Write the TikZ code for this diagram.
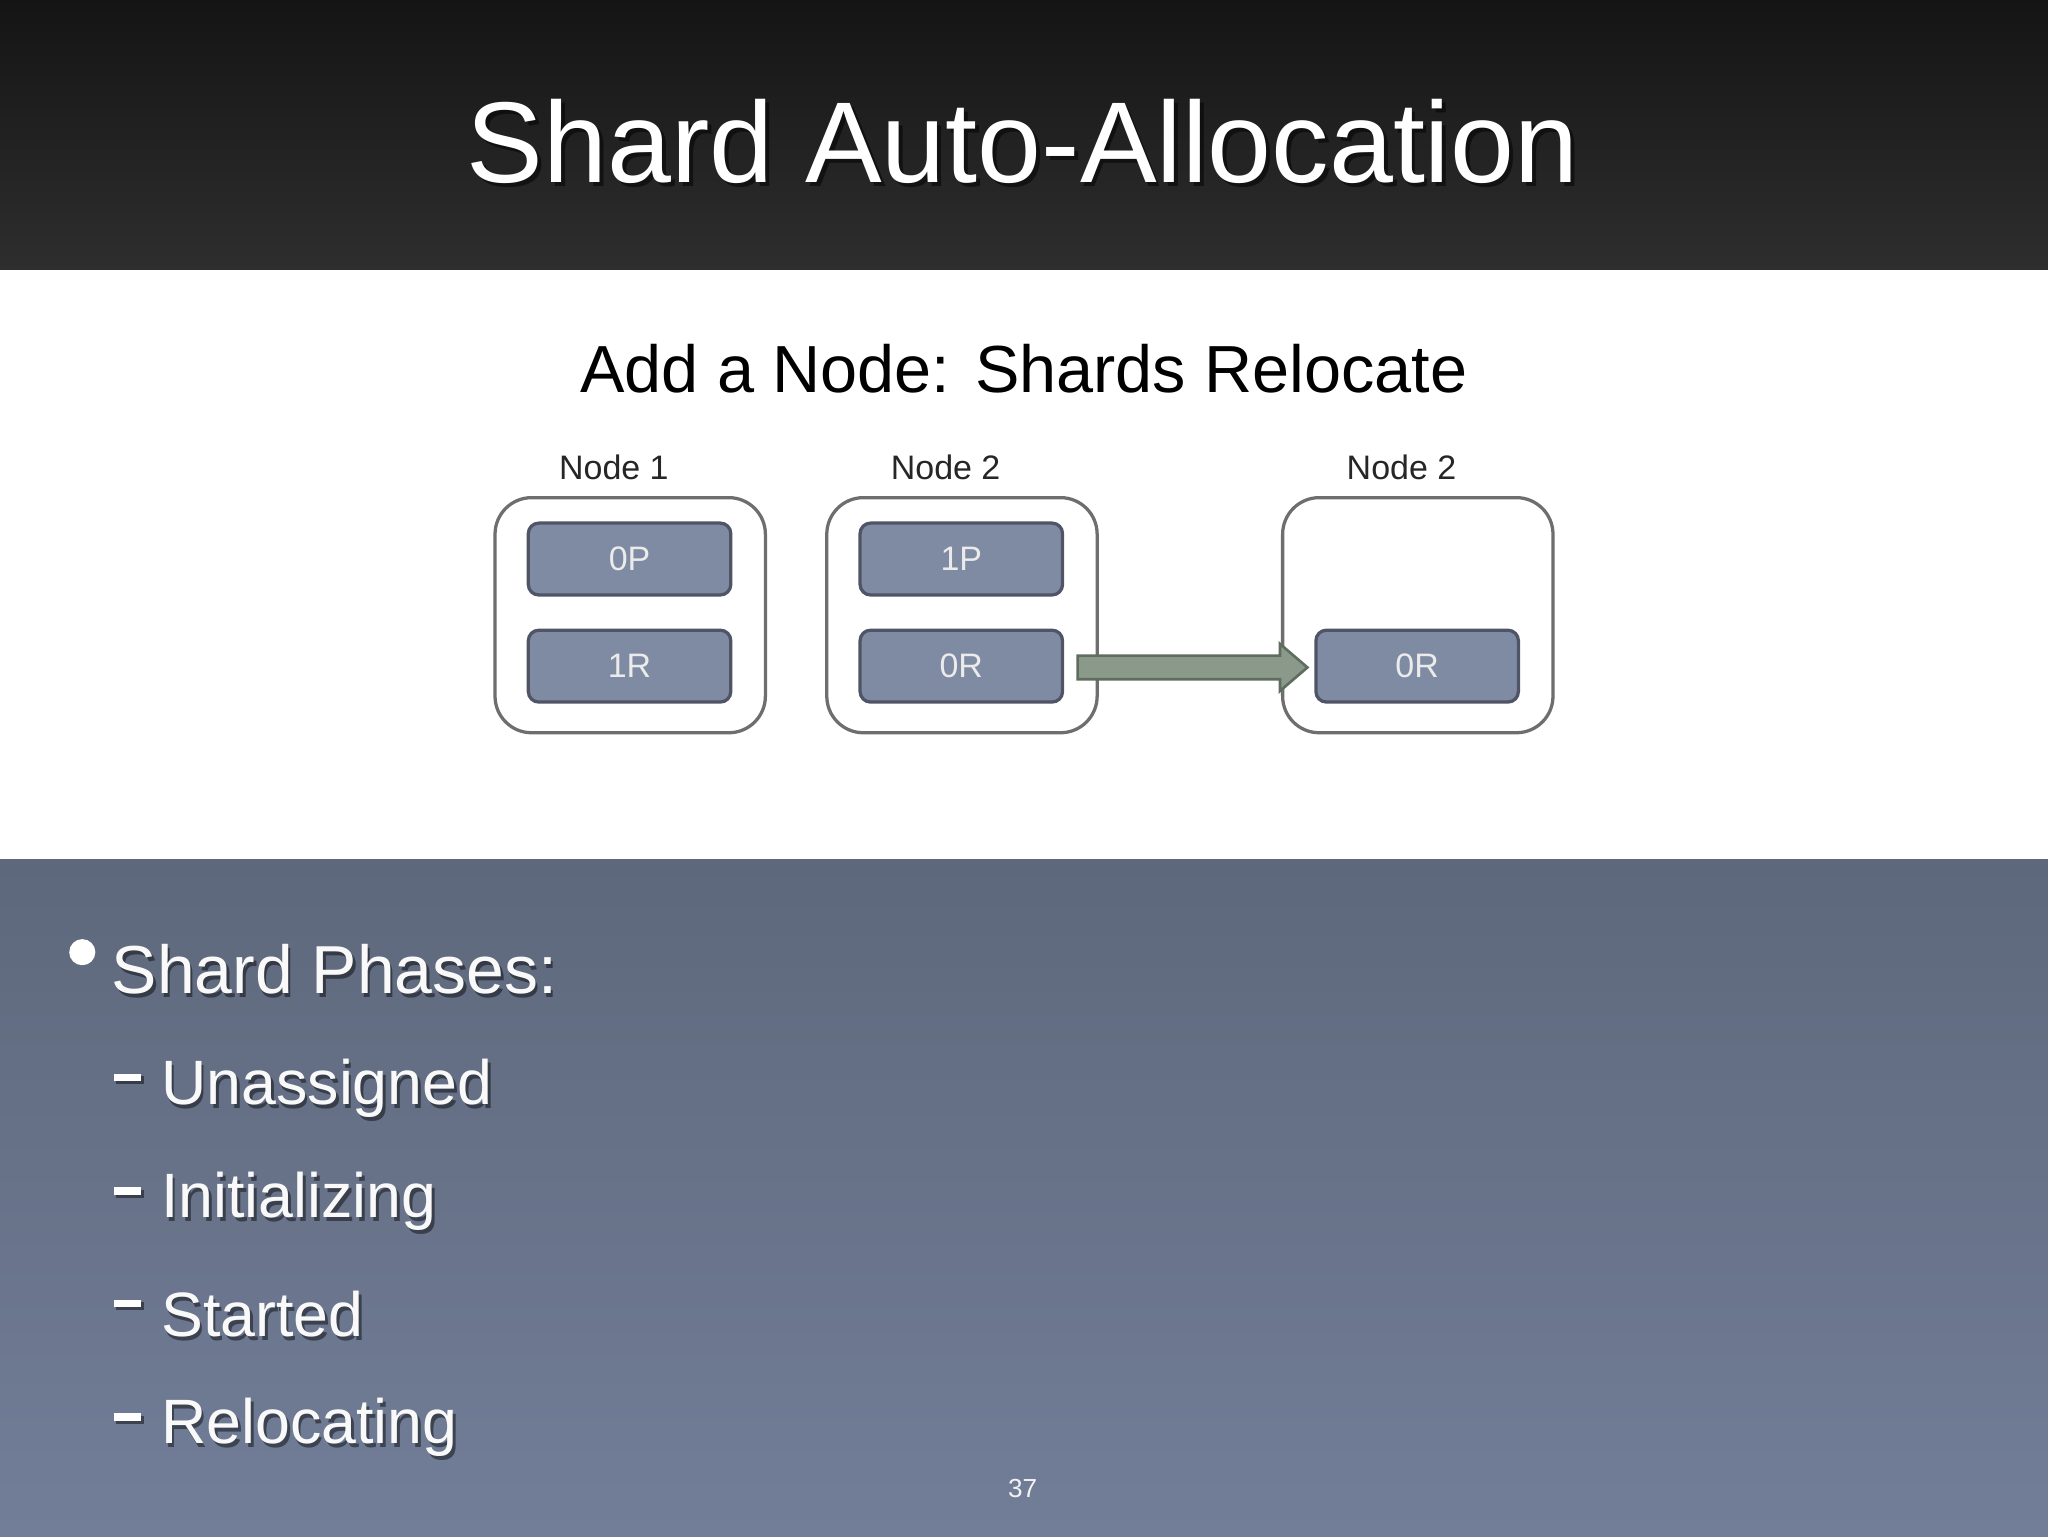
\documentclass[tikz,border=0pt]{standalone}
\usepackage{fontspec}
\setmainfont{Liberation Sans}
\usetikzlibrary{shapes.arrows}
\definecolor{shardfill}{HTML}{7F8BA3}
\definecolor{sharddraw}{HTML}{4F5566}
\definecolor{boxdraw}{HTML}{6E6E6E}
\definecolor{arrfill}{HTML}{8A998A}
\definecolor{arrdraw}{HTML}{5E6E5E}
\tikzset{
  bigbox/.style={draw=boxdraw,line width=2.5pt,rounded corners=28pt,fill=white},
  shard/.style={draw=sharddraw,line width=2.5pt,fill=shardfill,rounded corners=8pt,minimum width=155pt,minimum height=55pt,text=white!92!black,font=\fontsize{26}{28}\selectfont,inner sep=0pt},
  nlabel/.style={font=\fontsize{26}{28}\selectfont,text=black!85},
  item/.style={anchor=west,text=white!95!gray,font=\fontsize{48}{52}\selectfont},
  shadow/.style={anchor=west,text=black,opacity=0.45,font=\fontsize{48}{52}\selectfont},
}
\begin{document}
\begin{tikzpicture}[x=1pt,y=-1pt]
\useasboundingbox (0,0) rectangle (1568,1176);
\shade[top color=black!92,bottom color=black!82] (0,0) rectangle (1568,207);
\fill[white] (0,207) rectangle (1568,658);
\shade[top color={rgb,255:red,94;green,104;blue,124},bottom color={rgb,255:red,114;green,126;blue,152}] (0,658) rectangle (1568,1176);
\node[text=black,opacity=0.5,font=\fontsize{88}{92}\selectfont] at (786,111) {Shard Auto-Allocation};
\node (title) [text=white,font=\fontsize{88}{92}\selectfont] at (783,108) {Shard Auto-Allocation};
\node (sub) [font=\fontsize{51}{55}\selectfont] at (784,282) {Add a Node: Shards Relocate};
\node (l1) [nlabel] at (470,358) {Node 1};
\node (l2) [nlabel] at (724,358) {Node 2};
\node (l3) [nlabel] at (1073,358) {Node 2};
\draw[bigbox] (379,381) rectangle (586,561);
\draw[bigbox] (633,381) rectangle (840,561);
\draw[bigbox] (982,381) rectangle (1189,561);
\node (a) [shard] at (482,428) {0P};
\node (b) [shard] at (482,510) {1R};
\node (c) [shard] at (736,428) {1P};
\node (d) [shard] at (736,510) {0R};
\node (e) [shard] at (1085,510) {0R};
\fill[arrfill,draw=arrdraw,line width=2pt] (825,502) -- (980,502) -- (980,493) -- (1001,511) -- (980,529) -- (980,520) -- (825,520) -- cycle;
\fill[white] (63,729) circle (10);
\node[shadow,font=\fontsize{52}{56}\selectfont] at (84,745) {Shard Phases:};
\node (sp) [item,font=\fontsize{52}{56}\selectfont] at (82,742) {Shard Phases:};
\foreach \y/\t in {831/Unassigned,918/Initializing,1004/Started,1091/Relocating}{
  \fill[black,opacity=0.45] (89,\y-7) rectangle (110,\y-1);
  \fill[white] (87,\y-9) rectangle (108,\y-3);
  \node[shadow] at (122,\y+5) {\t};
  \node[item] at (120,\y+2) {\t};
}
\node (pg) [text=white!90!gray,font=\fontsize{20}{22}\selectfont] at (783,1140) {37};
\end{tikzpicture}
\end{document}
